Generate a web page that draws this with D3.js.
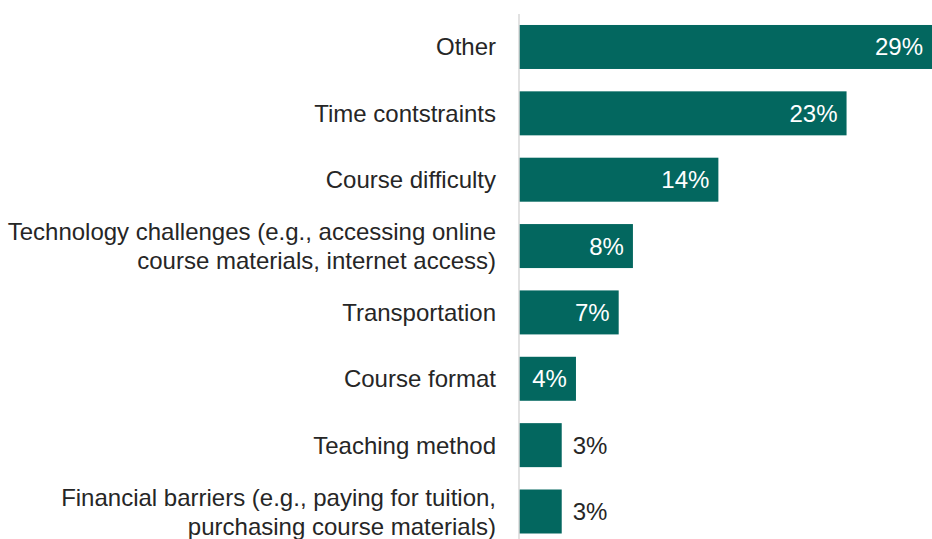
<!DOCTYPE html>
<html>
<head>
<meta charset="utf-8">
<script src="https://cdn.jsdelivr.net/npm/d3@7"></script>
<style>
  html, body { margin: 0; padding: 0; background: #fff; }
  svg { display: block; }
  text { font-family: "Liberation Sans", Arial, Helvetica, sans-serif; }
</style>
</head>
<body>
<svg id="chart" width="932" height="539"></svg>
<script>
// Share of respondents citing each barrier (percent)
const categories = [
  ["Other"],
  ["Time contstraints"],
  ["Course difficulty"],
  ["Technology challenges (e.g., accessing online", "course materials, internet access)"],
  ["Transportation"],
  ["Course format"],
  ["Teaching method"],
  ["Financial barriers (e.g., paying for tuition,", "purchasing course materials)"]
];
const values = [29, 23, 14, 8, 7, 4, 3, 3];

const data = categories.map((lines, i) => ({ key: i, lines, value: values[i] }));

const svg = d3.select("#chart");
const W = 932, H = 539;
const left = 519;
const fontSize = 24;
const textColor = "#262626";

const x = d3.scaleLinear().domain([0, 29]).range([left, 932]);
const y = d3.scaleBand()
  .domain(data.map(d => d.key))
  .range([13.8, 13.8 + 8 * 66.36])
  .paddingInner(0.337)
  .paddingOuter(0.1685);

const fill = "#03675f";

// bars
svg.append("g").selectAll("rect")
  .data(data)
  .join("rect")
  .attr("x", x(0))
  .attr("y", d => y(d.key))
  .attr("width", d => x(d.value) - x(0))
  .attr("height", y.bandwidth())
  .attr("fill", fill);

// vertical baseline
svg.append("line")
  .attr("x1", left).attr("x2", left)
  .attr("y1", 14).attr("y2", H)
  .attr("stroke", "#d9d9d9")
  .attr("stroke-width", 1.5);

// category labels (wrapped lines)
const lineGap = 29;
const labels = svg.append("g").selectAll("text")
  .data(data)
  .join("text")
  .attr("text-anchor", "end")
  .attr("font-size", fontSize)
  .attr("fill", textColor)
  .attr("x", 496)
  .attr("y", d => y(d.key) + y.bandwidth() / 2);

labels.selectAll("tspan")
  .data(d => d.lines.map((t, i) => ({ t, i, n: d.lines.length })))
  .join("tspan")
  .attr("x", 496)
  .attr("dy", d => d.i === 0 ? ((-(d.n - 1) / 2) * lineGap) : lineGap)
  .attr("dominant-baseline", "central")
  .text(d => d.t);

// value labels: inside bar when it fits, otherwise just past the end
const fmt = v => d3.format(".0f")(v) + "%";
svg.append("g").selectAll("text")
  .data(data)
  .join("text")
  .attr("font-size", fontSize)
  .attr("dominant-baseline", "central")
  .attr("y", d => y(d.key) + y.bandwidth() / 2)
  .each(function(d) {
    const inside = d.value >= 4;
    d3.select(this)
      .attr("x", inside ? x(d.value) - 9 : x(d.value) + 11)
      .attr("text-anchor", inside ? "end" : "start")
      .attr("fill", inside ? "#ffffff" : textColor);
  })
  .text(d => fmt(d.value));
</script>
</body>
</html>
